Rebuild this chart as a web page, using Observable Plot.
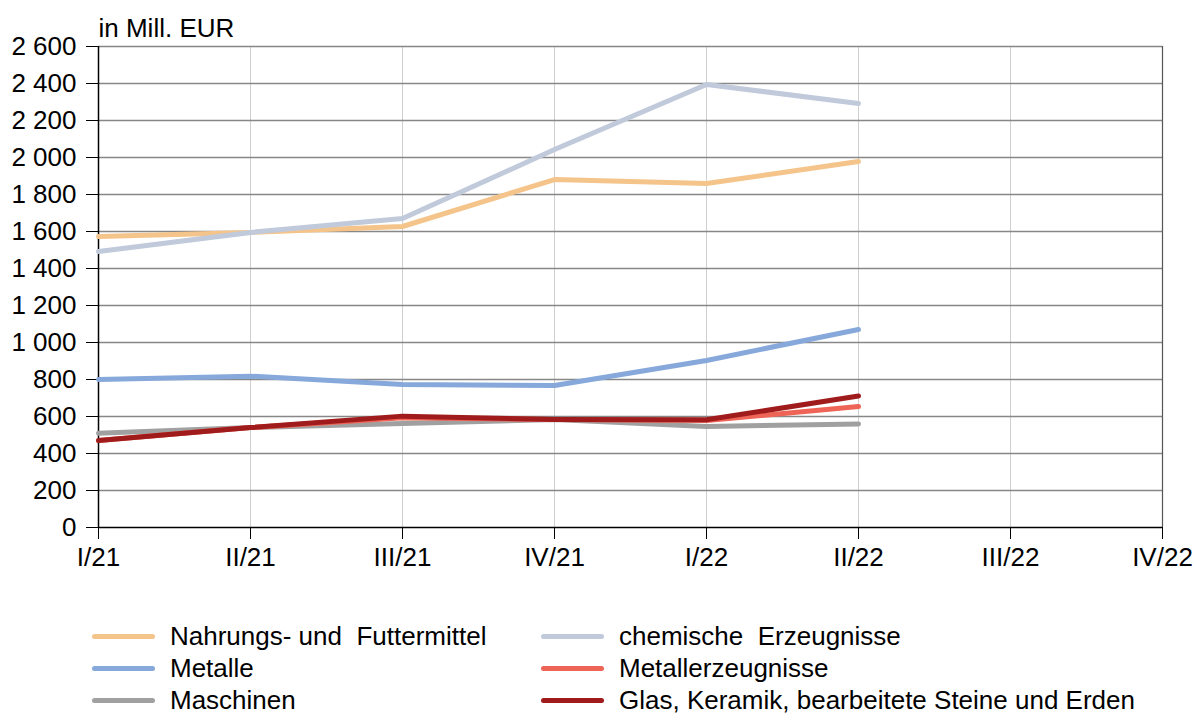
<!DOCTYPE html>
<html>
<head>
<meta charset="utf-8">
<script src="https://cdn.jsdelivr.net/npm/d3@7"></script>
<script src="https://cdn.jsdelivr.net/npm/@observablehq/plot@0.6"></script>
<style>
  body { margin: 0; background: #fff; font-family: "Liberation Sans", Arial, sans-serif; overflow: hidden; }
  #chart svg { display: block; }
  #legend { position: relative; height: 115px; }
  .item { position: absolute; font-size: 26px; line-height: 26px; color: #000; display: flex; align-items: center; white-space: pre; }
  .sw { width: 63px; height: 5px; border-radius: 3px; margin-right: 15px; }
</style>
</head>
<body>
<div id="chart"></div>
<div id="legend"></div>
<script>
const quarters = ["I/21", "II/21", "III/21", "IV/21", "I/22", "II/22", "III/22", "IV/22"];
const dataQuarters = ["I/21", "II/21", "III/21", "IV/21", "I/22", "II/22"];
const seriesNames = [
  "Nahrungs- und  Futtermittel",
  "chemische  Erzeugnisse",
  "Metalle",
  "Metallerzeugnisse",
  "Maschinen",
  "Glas, Keramik, bearbeitete Steine und Erden"
];
const seriesColors = ["#F4C48A", "#C0CADB", "#86A8DA", "#EE6557", "#A0A0A0", "#A01C1C"];
const nahrung = [1573, 1595, 1627, 1881, 1859, 1978];
const chemie = [1492, 1595, 1670, 2043, 2395, 2292];
const metalle = [800, 818, 773, 768, 903, 1070];
const metallerz = [470, 540, 593, 584, 578, 654];
const maschinen = [510, 540, 562, 584, 546, 560];
const glas = [470, 540, 602, 584, 582, 711];
const yTicks = [0, 200, 400, 600, 800, 1000, 1200, 1400, 1600, 1800, 2000, 2200, 2400, 2600];

// drawing order: back to front
const drawOrder = [4, 2, 0, 1, 3, 5];
const seriesValues = [nahrung, chemie, metalle, metallerz, maschinen, glas];
const rows = [];
drawOrder.forEach(si => {
  dataQuarters.forEach((q, i) => rows.push({series: seriesNames[si], q, v: seriesValues[si][i]}));
});

const fmt = d3.formatLocale({decimal: ",", thousands: " ", grouping: [3]}).format(",");
const fmtY = d => fmt(d);

const W = 1197, H = 600;
const chart = Plot.plot({
  width: W,
  height: H,
  marginLeft: 98,
  marginRight: 35,
  marginTop: 46,
  marginBottom: H - 527,
  style: {fontFamily: "Liberation Sans, Arial, sans-serif", fontSize: "26px", color: "#000", background: "#fff"},
  x: {type: "point", domain: quarters, padding: 0, label: null},
  y: {domain: [0, 2600], label: null},
  color: {domain: seriesNames, range: seriesColors},
  marks: [
    Plot.ruleX(quarters, {x: d => d, stroke: "#d0d0d0", strokeWidth: 1}),
    Plot.ruleY(yTicks.filter(d => d > 0), {y: d => d, stroke: "#878787", strokeWidth: 1.5}),
    Plot.ruleX([quarters[quarters.length - 1]], {x: d => d, stroke: "#555", strokeWidth: 1.2}),
    Plot.axisY({ticks: yTicks, tickFormat: fmtY, tickSize: 12, tickPadding: 10, fontSize: 26, stroke: "#000"}),
    Plot.axisX({ticks: quarters, tickSize: 12, tickPadding: 8, fontSize: 26, stroke: "#000"}),
    Plot.ruleY([0], {stroke: "#000", strokeWidth: 1.5}),
    Plot.ruleX([quarters[0]], {x: d => d, stroke: "#000", strokeWidth: 1.5}),
    Plot.line(rows, {x: "q", y: "v", z: "series", stroke: "series", strokeWidth: 5, strokeLinecap: "round", strokeLinejoin: "round"}),
    Plot.text(["in Mill. EUR"], {frameAnchor: "top-left", text: d => d, dy: -18, dx: 0, fontSize: 26, textAnchor: "start", lineAnchor: "middle", fill: "#000"})
  ]
});
document.getElementById("chart").appendChild(chart);

const legend = document.getElementById("legend");
const pos = [[92, 636], [541, 636], [92, 668], [541, 668], [92, 700], [541, 700]];
seriesNames.forEach((name, k) => {
  const div = document.createElement("div");
  div.className = "item";
  div.style.left = pos[k][0] + "px";
  div.style.top = (pos[k][1] - H - 13) + "px";
  div.style.height = "26px";
  const sw = document.createElement("span");
  sw.className = "sw";
  sw.style.background = seriesColors[k];
  div.appendChild(sw);
  div.appendChild(document.createTextNode(name));
  legend.appendChild(div);
});
</script>
</body>
</html>
